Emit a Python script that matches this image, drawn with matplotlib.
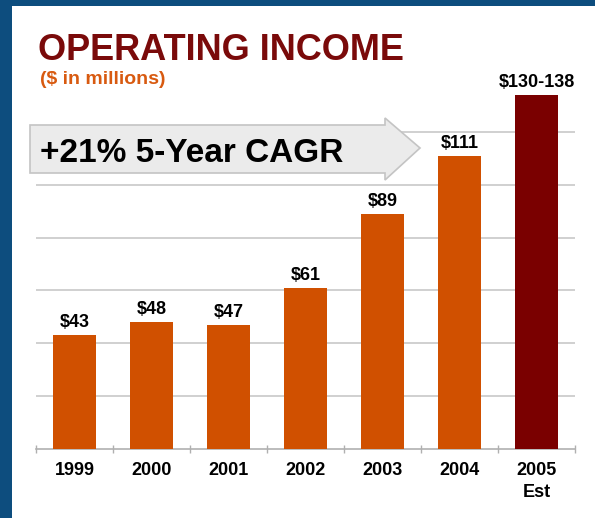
import matplotlib
matplotlib.use('Agg')
import matplotlib.pyplot as plt
from matplotlib.patches import Rectangle, Polygon

plt.rcParams['font.family'] = ['Liberation Sans', 'DejaVu Sans']

#data------------------------------------------
years = ['1999', '2000', '2001', '2002', '2003', '2004', '2005\nEst']
income = [43, 48, 47, 61, 89, 111, 134]
labels = ['$43', '$48', '$47', '$61', '$89', '$111', '$130-138']
colors = ['#d05000'] * 6 + ['#7a0000']
#-----------------------------

W, H = 595, 518
fig = plt.figure(figsize=(W / 100, H / 100), dpi=100)
fig.patch.set_facecolor('#0d4d7e')

def fx(x):
    return x / W

def fy(y):
    return 1 - y / H

# white panel
fig.patches.append(Rectangle((fx(12), 0), fx(W - 12), fy(6), transform=fig.transFigure,
                             facecolor='white', edgecolor='none', zorder=-1))

ax = fig.add_axes([fx(36), fy(449), fx(575 - 36), fy(79) - fy(449)])
ax.set_zorder(1)
ax.set_facecolor('none')
ax.bar(range(len(income)), income, width=0.56, color=colors, zorder=3)
ax.set_xlim(-0.5, 6.5)
ax.set_ylim(0, 140)
ax.set_yticks([20, 40, 60, 80, 100, 120])
ax.yaxis.grid(True, color='#c8c8c8', linewidth=1.2, zorder=0)
ax.tick_params(axis='y', left=False, labelleft=False)
ax.set_xticks([i - 0.5 for i in range(8)])
ax.set_xticklabels([])
ax.tick_params(axis='x', direction='inout', length=6, color='#b0b0b0', width=1)
for s in ['top', 'right', 'left']:
    ax.spines[s].set_visible(False)
ax.spines['bottom'].set_color('#b0b0b0')
ax.spines['bottom'].set_linewidth(1.2)

for i, (v, lab) in enumerate(zip(income, labels)):
    ax.text(i, v + 1.5, lab, ha='center', va='bottom', fontsize=13, fontweight='bold', color='black')
    ax.text(i, -5, years[i], ha='center', va='top', fontsize=13, fontweight='bold',
            color='black', linespacing=1.4)

# CAGR arrow
pts = [(30, 125), (385, 125), (385, 118), (420, 148), (385, 180), (385, 173), (30, 173)]
fig.patches.append(Polygon([(fx(x), fy(y)) for x, y in pts], closed=True, transform=fig.transFigure,
                           facecolor='#ebebeb', edgecolor='#c4c4c4', linewidth=1.2, zorder=5))
fig.text(fx(40), fy(153), '+21% 5-Year CAGR', fontsize=24, fontweight='bold', color='black',
         ha='left', va='center', zorder=6)

fig.text(fx(38), fy(50), 'OPERATING INCOME', fontsize=26, fontweight='bold', color='#7a0a0a',
         ha='left', va='center')
fig.text(fx(40), fy(80), '($ in millions)', fontsize=14, fontweight='bold', color='#d85a10',
         ha='left', va='center')

fig.savefig('out.png', dpi=100, facecolor=fig.get_facecolor())
